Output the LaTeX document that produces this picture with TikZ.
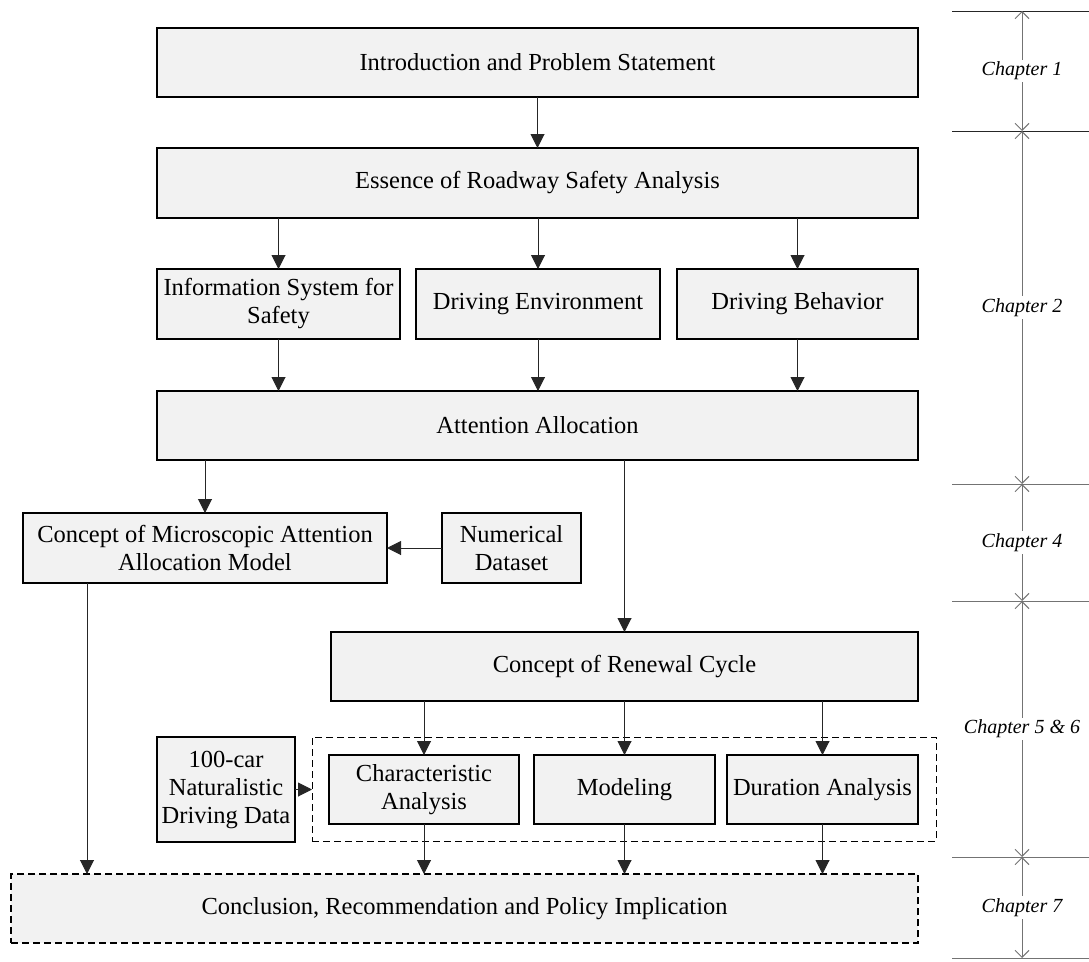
\documentclass[tikz,border=0pt]{standalone}
\usepackage{fontspec}
\setmainfont{Liberation Serif}
\usetikzlibrary{arrows.meta,calc}
\definecolor{boxfill}{HTML}{F2F2F2}
\tikzset{
  box/.style={draw=black, line width=1.2pt, fill=boxfill, inner sep=0pt, outer sep=0pt,
    align=center, font=\fontsize{24.5}{28}\selectfont},
  dashbox/.style={box, dash pattern=on 7pt off 4pt},
  groupbox/.style={draw=black, line width=0.8pt, dash pattern=on 7pt off 4pt, inner sep=0pt, outer sep=0pt},
  arr/.style={draw=black!85, line width=1pt, -{Triangle[length=14pt,width=14pt]}},
  rule/.style={draw=black!55, line width=1pt},
  span/.style={draw=black!55, line width=1pt, {Straight Barb[length=7pt,width=14pt]}-{Straight Barb[length=7pt,width=14pt]}},
  chap/.style={fill=white, inner sep=2pt, font=\fontsize{20}{23}\selectfont\itshape}
}
\begin{document}
\begin{tikzpicture}[x=1pt,y=-1pt]
\useasboundingbox (0,0) rectangle (1089,961);

% main flow
\node[box, minimum width=761pt, minimum height=69pt] (intro) at (537.5,62.5) {Introduction and Problem Statement};
\node[box, minimum width=761pt, minimum height=70pt] (essence) at (537.5,183) {Essence of Roadway Safety Analysis};
\node[box, minimum width=243pt, minimum height=70pt] (info) at (278.5,304) {Information System for\\Safety};
\node[box, minimum width=244pt, minimum height=70pt] (env) at (538,304) {Driving Environment};
\node[box, minimum width=241pt, minimum height=70pt] (behav) at (797.5,304) {Driving Behavior};
\node[box, minimum width=761pt, minimum height=69pt] (attn) at (537.5,425.5) {Attention Allocation};
\node[box, minimum width=364pt, minimum height=70pt] (micro) at (205,548) {Concept of Microscopic Attention\\Allocation Model};
\node[box, minimum width=139pt, minimum height=70pt] (num) at (511.5,548) {Numerical\\Dataset};
\node[box, minimum width=587pt, minimum height=69pt] (renew) at (624.5,666.5) {Concept of Renewal Cycle};
\node[groupbox, minimum width=624pt, minimum height=104pt] (group) at (624,789) {};
\node[box, minimum width=138pt, minimum height=105pt] (car) at (226,789.5) {100-car\\Naturalistic\\Driving Data};
\node[box, minimum width=190pt, minimum height=69pt] (charan) at (424,789.5) {Characteristic\\Analysis};
\node[box, minimum width=181pt, minimum height=69pt] (model) at (624.5,789.5) {Modeling};
\node[box, minimum width=191pt, minimum height=69pt] (dur) at (822.5,789.5) {Duration Analysis};
\node[dashbox, minimum width=907pt, minimum height=69pt] (concl) at (464.5,908.5) {Conclusion, Recommendation and Policy Implication};

% connectors
\draw[arr] (intro) -- (essence);
\foreach \n in {info,env,behav}{
  \draw[arr] (\n.north |- essence.south) -- (\n.north);
  \draw[arr] (\n.south) -- (\n.south |- attn.north);
}
\draw[arr] (micro.north |- attn.south) -- (micro.north);
\draw[arr] (renew.north |- attn.south) -- (renew.north);
\draw[arr] (num.west) -- (micro.east);
\draw[arr] ([xshift=64pt]micro.south west) -- ([xshift=64pt]micro.south west |- concl.north);
\draw[arr] (car.east) -- (car.east -| group.west);
\foreach \n in {charan,model,dur}{
  \draw[arr] (\n.north |- renew.south) -- (\n.north);
  \draw[arr] (\n.south) -- (\n.south |- concl.north);
}

% chapter scale
\coordinate (s0) at (1022,11);
\coordinate (s1) at (1022,131);
\coordinate (s2) at (1022,484);
\coordinate (s3) at (1022,601);
\coordinate (s4) at (1022,857);
\coordinate (s5) at (1022,958);
\foreach \c in {s0,s1}{
  \draw[line width=1pt, black!85] ([xshift=-70pt]\c) -- ([xshift=67pt]\c);
}
\foreach \c in {s2,s3,s4,s5}{
  \draw[rule] ([xshift=-70pt]\c) -- ([xshift=67pt]\c);
}
\draw[span] (s0) -- (s1) node[chap, midway] (c1) {Chapter 1};
\draw[span] (s1) -- (s2) node[chap, midway] (c2) {Chapter 2};
\draw[span] (s2) -- (s3) node[chap, midway] (c4) {Chapter 4};
\draw[span] (s3) -- (s4) node[chap, midway] (c56) {Chapter 5 \& 6};
\draw[span] (s4) -- (s5) node[chap, midway] (c7) {Chapter 7};
\end{tikzpicture}
\end{document}
